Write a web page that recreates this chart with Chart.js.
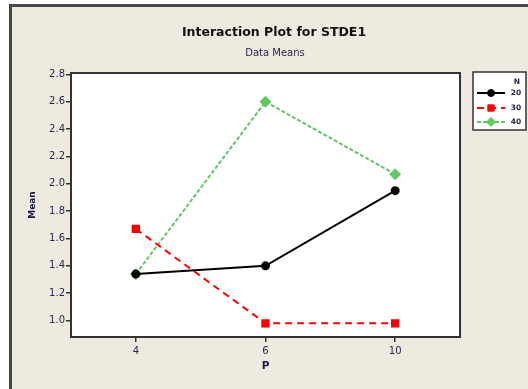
<!DOCTYPE html>
<html><head><meta charset="utf-8">
<script src="https://cdn.jsdelivr.net/npm/chart.js@4"></script>
<style>
html,body{margin:0;padding:0;background:#fff;width:528px;height:389px;overflow:hidden}
#frame{position:absolute;left:9px;top:4px;width:560px;height:420px;border-top:3px solid #474747;border-left:3px solid #474747;background:#EEEAE0}
#wrap{position:absolute;left:0;top:0;width:528px;height:389px}
</style></head><body>
<div id="frame"></div>
<div id="wrap"><canvas id="c" width="528" height="389"></canvas></div>
<script>
// Factor levels and cell means
const pLevels = ['4', '6', '10'];
const nLevels = ['20', '30', '40'];
const meanN20 = [1.34, 1.40, 1.95];
const meanN30 = [1.67, 0.98, 0.98];
const meanN40 = [1.34, 2.60, 2.07];
const yTickValues = [1.0, 1.2, 1.4, 1.6, 1.8, 2.0, 2.2, 2.4, 2.6, 2.8];

const chartTitle = 'Interaction Plot for STDE1';
const chartSubtitle = 'Data Means';
const legendTitle = 'N';

const tickColor = '#29264f';
const FONT = '"DejaVu Sans", sans-serif';

// White plot panel with dark frame, titles and a boxed legend
const panelPlugin = {
  id: 'panel',
  beforeDraw(chart) {
    const {ctx, chartArea: a} = chart;
    ctx.save();
    ctx.fillStyle = '#ffffff';
    ctx.fillRect(a.left, a.top, a.right - a.left, a.bottom - a.top);
    ctx.restore();
  },
  afterDraw(chart) {
    const {ctx, chartArea: a} = chart;
    ctx.save();
    ctx.strokeStyle = '#333333';
    ctx.lineWidth = 2;
    ctx.strokeRect(a.left, a.top, a.right - a.left, a.bottom - a.top);

    ctx.fillStyle = '#111111';
    ctx.textAlign = 'center';
    ctx.textBaseline = 'middle';
    ctx.font = 'bold 12.5px ' + FONT;
    ctx.fillText(chartTitle, 274, 33);
    ctx.fillStyle = '#221f4a';
    ctx.font = '10px ' + FONT;
    ctx.fillText(chartSubtitle, 275, 53);

    // legend
    const bx = 473, by = 72, bw = 53, bh = 58;
    ctx.fillStyle = '#ffffff';
    ctx.fillRect(bx, by, bw, bh);
    ctx.strokeStyle = '#333333';
    ctx.lineWidth = 1.5;
    ctx.strokeRect(bx, by, bw, bh);
    ctx.fillStyle = tickColor;
    ctx.font = 'bold 7.5px ' + FONT;
    ctx.textAlign = 'center';
    ctx.fillText(legendTitle, 517, 82);
    const rows = [93, 108, 122];
    chart.data.datasets.forEach((ds, i) => {
      const y = rows[i];
      ctx.save();
      ctx.strokeStyle = ds.borderColor;
      ctx.lineWidth = ds.borderWidth;
      ctx.setLineDash(ds.borderDash || []);
      ctx.beginPath();
      ctx.moveTo(477, y);
      ctx.lineTo(505, y);
      ctx.stroke();
      ctx.setLineDash([]);
      ctx.lineWidth = 1;
      ctx.fillStyle = ds.pointBackgroundColor;
      Chart.helpers.drawPoint(ctx, {
        pointStyle: ds.pointStyle, radius: ds.pointRadius, rotation: 0, borderWidth: 1
      }, 491, y);
      ctx.restore();
      ctx.fillStyle = tickColor;
      ctx.font = 'bold 7.5px ' + FONT;
      ctx.textAlign = 'center';
      ctx.fillText(ds.label, 516, y);
    });
    ctx.restore();
  }
};

new Chart(document.getElementById('c'), {
  type: 'line',
  data: {
    labels: pLevels,
    datasets: [
      { label: nLevels[0], data: meanN20, borderColor: '#000000', backgroundColor: '#000000',
        pointBackgroundColor: '#000000', pointBorderColor: '#000000',
        borderWidth: 2, pointStyle: 'circle', pointRadius: 3.5 },
      { label: nLevels[1], data: meanN30, borderColor: '#ff0000', backgroundColor: '#ff0000',
        pointBackgroundColor: '#ff0000', pointBorderColor: '#ff0000',
        borderWidth: 2, borderDash: [7, 5], pointStyle: 'rect', pointRadius: 4.5 },
      { label: nLevels[2], data: meanN40, borderColor: '#62c862', backgroundColor: '#62c862',
        pointBackgroundColor: '#62c862', pointBorderColor: '#62c862',
        borderWidth: 2, borderDash: [4, 2], pointStyle: 'rectRot', pointRadius: 4.5 }
    ]
  },
  options: {
    responsive: false,
    animation: false,
    devicePixelRatio: 1,
    layout: { padding: { top: 73, right: 68, left: 0, bottom: 0 } },
    plugins: { legend: { display: false }, title: { display: false }, tooltip: { enabled: false } },
    scales: {
      x: {
        type: 'category',
        offset: true,
        grid: { offset: false, drawOnChartArea: false, drawTicks: true, tickLength: 5, color: '#333333', lineWidth: 1.5 },
        border: { display: false },
        ticks: { color: tickColor, font: { family: FONT, size: 10 }, padding: 3, maxRotation: 0 },
        title: { display: true, text: 'P', color: '#1c1a44', font: { family: FONT, size: 10.5, weight: 'bold' }, padding: { top: 0, bottom: 16 } },
        afterFit(scale) { scale.height = 52; }
      },
      y: {
        min: 0.88,
        max: 2.81,
        grid: { drawOnChartArea: false, drawTicks: true, tickLength: 5, color: '#333333', lineWidth: 1.5 },
        border: { display: false },
        ticks: { color: tickColor, font: { family: FONT, size: 10 }, padding: 1,
          callback: v => Number(v).toFixed(1) },
        afterBuildTicks(scale) { scale.ticks = yTickValues.map(v => ({ value: v })); },
        title: { display: true, text: 'Mean', color: '#1c1a44', font: { family: FONT, size: 9, weight: 'bold' }, padding: { top: 27, bottom: 0 } },
        afterFit(scale) { scale.width = 71; }
      }
    }
  },
  plugins: [panelPlugin]
});
</script>
</body></html>
